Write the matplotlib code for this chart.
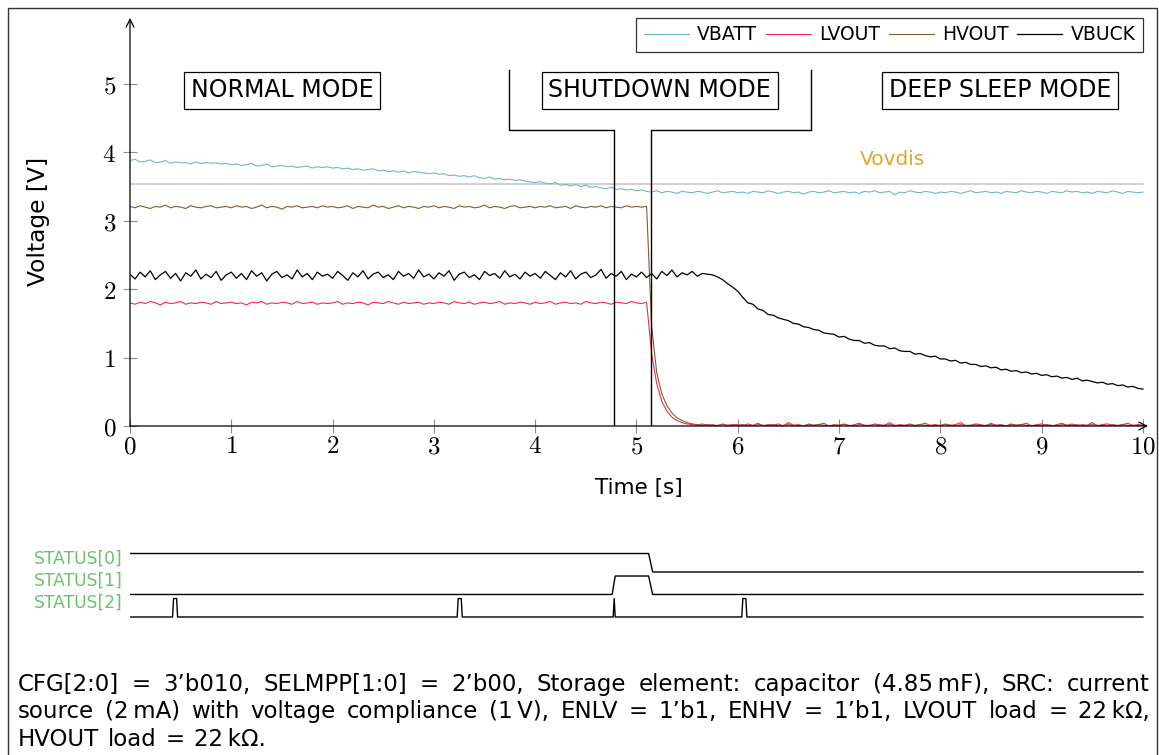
import numpy as np
import matplotlib
matplotlib.use("Agg")
import matplotlib.pyplot as plt
from matplotlib.patches import Rectangle

plt.rcParams['mathtext.fontset'] = 'cm'
FAM = ['DejaVu Sans']
plt.rcParams['font.family'] = FAM

# ---------------- data ----------------
time = np.linspace(0, 10, 201)

vbatt = [3.88, 3.90, 3.86, 3.87, 3.89, 3.85, 3.86, 3.88, 3.84, 3.86, 3.85, 3.85, 3.83, 3.86, 3.84, 3.85, 3.84, 3.85, 3.83, 3.84,
         3.82, 3.83, 3.81, 3.82, 3.84, 3.80, 3.81, 3.83, 3.79, 3.80, 3.81, 3.79, 3.80, 3.78, 3.79, 3.80, 3.77, 3.79, 3.78, 3.79,
         3.77, 3.78, 3.76, 3.77, 3.75, 3.76, 3.74, 3.75, 3.76, 3.73, 3.74, 3.72, 3.73, 3.71, 3.73, 3.70, 3.72, 3.71, 3.70, 3.69,
         3.70, 3.68, 3.69, 3.66, 3.67, 3.65, 3.66, 3.64, 3.66, 3.63, 3.62, 3.64, 3.61, 3.62, 3.60, 3.61, 3.59, 3.60, 3.58, 3.57,
         3.56, 3.57, 3.55, 3.54, 3.56, 3.52, 3.53, 3.51, 3.53, 3.50, 3.52, 3.49, 3.50, 3.48, 3.47, 3.49, 3.46, 3.47, 3.45, 3.46,
         3.44, 3.45, 3.43, 3.42, 3.44, 3.41, 3.43, 3.42, 3.40, 3.43, 3.42, 3.41, 3.43, 3.42, 3.40, 3.42, 3.44, 3.41, 3.42, 3.43,
         3.41, 3.42, 3.40, 3.43, 3.42, 3.41, 3.44, 3.42, 3.40, 3.42, 3.43, 3.41, 3.42, 3.39, 3.42, 3.43, 3.41, 3.42, 3.44, 3.41,
         3.42, 3.43, 3.41, 3.42, 3.40, 3.43, 3.42, 3.44, 3.41, 3.42, 3.43, 3.38, 3.42, 3.41, 3.44, 3.42, 3.41, 3.43, 3.42, 3.40,
         3.42, 3.41, 3.43, 3.42, 3.40, 3.42, 3.44, 3.41, 3.42, 3.43, 3.41, 3.42, 3.40, 3.43, 3.42, 3.41, 3.44, 3.42, 3.41, 3.43,
         3.42, 3.40, 3.43, 3.42, 3.41, 3.44, 3.42, 3.43, 3.41, 3.42, 3.40, 3.43, 3.42, 3.41, 3.44, 3.42, 3.40, 3.43, 3.42, 3.41, 3.42]

lvout = [1.80, 1.78, 1.81, 1.79, 1.82, 1.80, 1.77, 1.81, 1.79, 1.80, 1.82, 1.78, 1.80, 1.79, 1.81, 1.80, 1.78, 1.82, 1.79, 1.80,
         1.81, 1.79, 1.80, 1.77, 1.81, 1.80, 1.82, 1.78, 1.80, 1.79, 1.81, 1.80, 1.78, 1.82, 1.79, 1.80, 1.81, 1.78, 1.80, 1.79,
         1.80, 1.82, 1.78, 1.80, 1.79, 1.81, 1.80, 1.77, 1.81, 1.80, 1.79, 1.82, 1.80, 1.78, 1.81, 1.79, 1.80, 1.81, 1.78, 1.80,
         1.79, 1.81, 1.80, 1.78, 1.82, 1.80, 1.79, 1.81, 1.78, 1.80, 1.81, 1.79, 1.80, 1.82, 1.78, 1.80, 1.79, 1.81, 1.80, 1.78,
         1.81, 1.79, 1.80, 1.82, 1.78, 1.80, 1.81, 1.79, 1.80, 1.78, 1.82, 1.80, 1.79, 1.81, 1.80, 1.78, 1.81, 1.80, 1.79, 1.82,
         1.80, 1.79, 1.81, 1.05, 0.62, 0.36, 0.22, 0.13, 0.08, 0.05, 0.03, 0.02, 0.01, 0.03, 0.01, 0.02, 0.00, 0.03, 0.01, 0.02,
         0.02, 0.00, 0.03, 0.01, 0.04, 0.00, 0.02, 0.01, 0.03, 0.00, 0.05, 0.01, 0.02, 0.00, 0.03, 0.01, 0.02, 0.04, 0.00, 0.02,
         0.01, 0.03, 0.00, 0.02, 0.04, 0.01, 0.00, 0.03, 0.02, 0.01, 0.05, 0.00, 0.02, 0.01, 0.03, 0.00, 0.02, 0.04, 0.01, 0.02,
         0.00, 0.03, 0.01, 0.02, 0.05, 0.00, 0.01, 0.03, 0.02, 0.00, 0.04, 0.01, 0.02, 0.00, 0.03, 0.01, 0.02, 0.04, 0.00, 0.02,
         0.03, 0.01, 0.00, 0.02, 0.04, 0.01, 0.03, 0.00, 0.02, 0.01, 0.05, 0.00, 0.02, 0.03, 0.01, 0.00, 0.02, 0.04, 0.01, 0.02, 0.01]

hvout = [3.21, 3.19, 3.22, 3.20, 3.18, 3.21, 3.20, 3.23, 3.19, 3.21, 3.20, 3.18, 3.22, 3.20, 3.19, 3.21, 3.22, 3.19, 3.20, 3.21,
         3.19, 3.22, 3.20, 3.21, 3.18, 3.20, 3.23, 3.19, 3.21, 3.20, 3.17, 3.21, 3.20, 3.22, 3.19, 3.20, 3.21, 3.19, 3.22, 3.20,
         3.21, 3.19, 3.20, 3.22, 3.18, 3.21, 3.20, 3.19, 3.23, 3.20, 3.21, 3.18, 3.20, 3.22, 3.19, 3.21, 3.20, 3.18, 3.21, 3.20,
         3.22, 3.19, 3.21, 3.20, 3.18, 3.22, 3.20, 3.21, 3.19, 3.20, 3.23, 3.19, 3.21, 3.20, 3.18, 3.21, 3.22, 3.19, 3.20, 3.21,
         3.19, 3.21, 3.20, 3.22, 3.19, 3.20, 3.21, 3.18, 3.22, 3.20, 3.19, 3.21, 3.20, 3.22, 3.19, 3.21, 3.20, 3.19, 3.22, 3.20,
         3.21, 3.20, 3.21, 1.45, 0.78, 0.47, 0.30, 0.19, 0.12, 0.08, 0.05, 0.03, 0.02, 0.01, 0.02, 0.01, 0.01, 0.02, 0.01, 0.01,
         0.01, 0.02, 0.01, 0.00, 0.02, 0.01, 0.01, 0.02, 0.00, 0.01, 0.02, 0.01, 0.01, 0.00, 0.02, 0.01, 0.02, 0.01, 0.00, 0.01,
         0.01, 0.02, 0.01, 0.00, 0.02, 0.01, 0.01, 0.02, 0.00, 0.01, 0.02, 0.01, 0.01, 0.00, 0.02, 0.01, 0.02, 0.01, 0.00, 0.01,
         0.01, 0.02, 0.01, 0.00, 0.02, 0.01, 0.01, 0.02, 0.00, 0.01, 0.02, 0.01, 0.01, 0.00, 0.02, 0.01, 0.02, 0.01, 0.00, 0.01,
         0.01, 0.02, 0.01, 0.00, 0.02, 0.01, 0.01, 0.02, 0.00, 0.01, 0.02, 0.01, 0.01, 0.00, 0.02, 0.01, 0.02, 0.01, 0.00, 0.01, 0.01]

vbuck = [2.22, 2.15, 2.25, 2.18, 2.27, 2.14, 2.21, 2.26, 2.16, 2.23, 2.12, 2.24, 2.19, 2.28, 2.15, 2.22, 2.17, 2.26, 2.13, 2.21,
         2.25, 2.16, 2.23, 2.14, 2.27, 2.19, 2.24, 2.12, 2.22, 2.26, 2.17, 2.21, 2.15, 2.28, 2.18, 2.23, 2.14, 2.25, 2.19, 2.22,
         2.16, 2.26, 2.20, 2.13, 2.24, 2.18, 2.27, 2.15, 2.22, 2.25, 2.17, 2.21, 2.14, 2.26, 2.19, 2.23, 2.16, 2.28, 2.18, 2.22,
         2.15, 2.24, 2.19, 2.27, 2.13, 2.22, 2.25, 2.17, 2.21, 2.14, 2.26, 2.20, 2.23, 2.16, 2.27, 2.18, 2.22, 2.15, 2.25, 2.19,
         2.23, 2.16, 2.26, 2.20, 2.14, 2.24, 2.18, 2.27, 2.15, 2.22, 2.25, 2.17, 2.21, 2.29, 2.16, 2.23, 2.19, 2.26, 2.14, 2.22,
         2.18, 2.25, 2.17, 2.23, 2.15, 2.26, 2.20, 2.28, 2.18, 2.24, 2.21, 2.26, 2.19, 2.23, 2.22, 2.21, 2.18, 2.14, 2.08, 2.03,
         1.97, 1.88, 1.80, 1.78, 1.71, 1.69, 1.63, 1.62, 1.58, 1.56, 1.54, 1.50, 1.49, 1.45, 1.44, 1.41, 1.40, 1.36, 1.35, 1.34,
         1.30, 1.31, 1.27, 1.25, 1.25, 1.21, 1.22, 1.18, 1.17, 1.17, 1.13, 1.14, 1.10, 1.09, 1.09, 1.05, 1.06, 1.03, 1.01, 1.02,
         0.98, 0.98, 0.95, 0.96, 0.92, 0.93, 0.90, 0.90, 0.87, 0.88, 0.85, 0.86, 0.82, 0.83, 0.80, 0.81, 0.78, 0.79, 0.76, 0.77,
         0.74, 0.75, 0.72, 0.73, 0.70, 0.71, 0.68, 0.70, 0.66, 0.67, 0.65, 0.63, 0.64, 0.61, 0.62, 0.59, 0.60, 0.57, 0.58, 0.55, 0.54]

vovdis = 3.54
t_shutdown_start = 4.78
t_shutdown_end = 5.14

status0_t = [0, 5.12, 5.16, 10]
status0_v = [1, 1, 0, 0]
status1_t = [0, 4.76, 4.79, 5.12, 5.16, 10]
status1_v = [0, 0, 1, 1, 0, 0]
status2_t = [0, 0.42, 0.43, 0.46, 0.47, 3.23, 3.24, 3.27, 3.28, 4.77, 4.78, 4.79,
             6.04, 6.05, 6.08, 6.09, 10]
status2_v = [0, 0, 1, 1, 0, 0, 1, 1, 0, 0, 1, 0, 0, 1, 1, 0, 0]
status_labels = ['STATUS[0]', 'STATUS[1]', 'STATUS[2]']

caption_lines = [
    "CFG[2:0] = 3\u2019b010, SELMPP[1:0] = 2\u2019b00, Storage element:  capacitor (4.85\u2009mF), SRC: current",
    "source (2\u2009mA) with voltage compliance (1\u2009V), ENLV = 1\u2019b1, ENHV = 1\u2019b1, LVOUT load = 22\u2009k\u03a9,",
    "HVOUT load = 22\u2009k\u03a9.",
]

C_VBATT = '#6fb6cb'
C_LVOUT = '#f5284f'
C_HVOUT = '#8a5a2c'
C_VBUCK = '#000000'

# ---------------- figure ----------------
W, H = 1159, 755
fig = plt.figure(figsize=(W / 100, H / 100), dpi=100)


def fx(px):
    return px / W


def fy(py):
    return 1 - py / H


ax = fig.add_axes([fx(130), fy(426), fx(1148) - fx(130), fy(18) - fy(426)])
ax.set_xlim(0, 10.05)
ax.set_ylim(0, 5.965)

ax.plot([0, 10], [vovdis, vovdis], color='#c8c8c8', lw=1.2, zorder=1)
ax.plot(time, vbatt, color=C_VBATT, lw=0.8, label='VBATT', zorder=2)
ax.plot(time, lvout, color=C_LVOUT, lw=0.8, label='LVOUT', zorder=3)
ax.plot(time, hvout, color=C_HVOUT, lw=0.8, label='HVOUT', zorder=3)
ax.plot(time, vbuck, color=C_VBUCK, lw=0.9, label='VBUCK', zorder=3)

ax.text(7.53, 3.89, 'Vovdis', color='#dea62a', fontsize=14.5, ha='center', va='center')

# bracket lines for shutdown mode
ax.plot([t_shutdown_start, t_shutdown_start, 3.74, 3.74], [0, 4.33, 4.33, 5.2], color='black', lw=1, zorder=4)
ax.plot([t_shutdown_end, t_shutdown_end, 6.72, 6.72], [0, 4.33, 4.33, 5.2], color='black', lw=1, zorder=4)

box = dict(boxstyle='square,pad=0.28', fc='white', ec='black', lw=0.9)
ax.text(1.50, 4.91, 'NORMAL MODE', fontsize=17, ha='center', va='center', bbox=box, zorder=5)
ax.text(5.23, 4.91, 'SHUTDOWN MODE', fontsize=17, ha='center', va='center', bbox=box, zorder=5)
ax.text(8.59, 4.91, 'DEEP SLEEP MODE', fontsize=17, ha='center', va='center', bbox=box, zorder=5)

for s in ax.spines.values():
    s.set_visible(False)
arrow = dict(arrowstyle='->', lw=0.9, color='black', shrinkA=0, shrinkB=0, mutation_scale=14)
ax.annotate('', xy=(1, 0), xytext=(0, 0), xycoords='axes fraction', arrowprops=arrow, zorder=6)
ax.annotate('', xy=(0, 1), xytext=(0, 0), xycoords='axes fraction', arrowprops=arrow, zorder=6)

ax.set_xticks(range(11))
ax.set_xticklabels(['$%d$' % i for i in range(11)], fontsize=18)
ax.set_yticks(range(6))
ax.set_yticklabels(['$%d$' % i for i in range(6)], fontsize=18)
ax.tick_params(direction='inout', length=10, width=0.8, color='#8c8c8c')
ax.tick_params(axis='x', pad=1)
ax.tick_params(axis='y', pad=5)

fig.text(fx(639), fy(488), 'Time [s]', fontsize=15.5, ha='center', va='center')
fig.text(fx(39), fy(221), 'Voltage [V]', fontsize=16.8, ha='center', va='center', rotation=90)

leg = ax.legend(loc='upper right', bbox_to_anchor=(fx(1143), fy(18)), bbox_transform=fig.transFigure,
                ncol=4, fontsize=13.5, frameon=True, fancybox=False, borderaxespad=0,
                handlelength=2.4, handletextpad=0.45, columnspacing=0.45, borderpad=0.4)
leg.get_frame().set_edgecolor('black')
leg.get_frame().set_linewidth(0.9)

# ---------------- status panel ----------------
ax2 = fig.add_axes([fx(130), fy(630), fx(1148) - fx(130), fy(540) - fy(630)])
ax2.set_xlim(0, 10.05)
ax2.set_ylim(-0.578, 3.42)
ax2.axis('off')
amp = 0.82
for k, (tt, vv) in enumerate([(status0_t, status0_v), (status1_t, status1_v), (status2_t, status2_v)]):
    base = 2 - k
    ax2.plot(tt, [base + amp * v for v in vv], color='black', lw=1.0)
for k, lab in enumerate(status_labels):
    fig.text(fx(123), fy(559 + 22 * k), lab, color='#6cc26c', fontsize=12.3, ha='right', va='center')

# ---------------- caption (justified) ----------------
renderer = fig.canvas.get_renderer()
CAP_FS = 16.5
baselines = [691, 718, 746]
for i, line in enumerate(caption_lines):
    if i < 2:
        words = [w for w in line.split(' ') if w]
        texts = [fig.text(0, fy(baselines[i]), w, fontsize=CAP_FS, ha='left', va='baseline') for w in words]
        widths = [t.get_window_extent(renderer).width for t in texts]
        gap = (1150 - 18 - sum(widths)) / (len(words) - 1)
        x = 18
        for t, w in zip(texts, widths):
            t.set_x(fx(x))
            x += w + gap
    else:
        words = [w for w in line.split(' ') if w]
        x = 18
        for w in words:
            t = fig.text(fx(x), fy(baselines[i]), w, fontsize=CAP_FS, ha='left', va='baseline')
            x += t.get_window_extent(renderer).width + 9

# outer frame
fig.add_artist(Rectangle((fx(8), fy(760)), fx(1157) - fx(8), fy(8) - fy(760), fill=False,
                         ec='#333333', lw=1.0, transform=fig.transFigure))

fig.savefig('out.png', dpi=100)
